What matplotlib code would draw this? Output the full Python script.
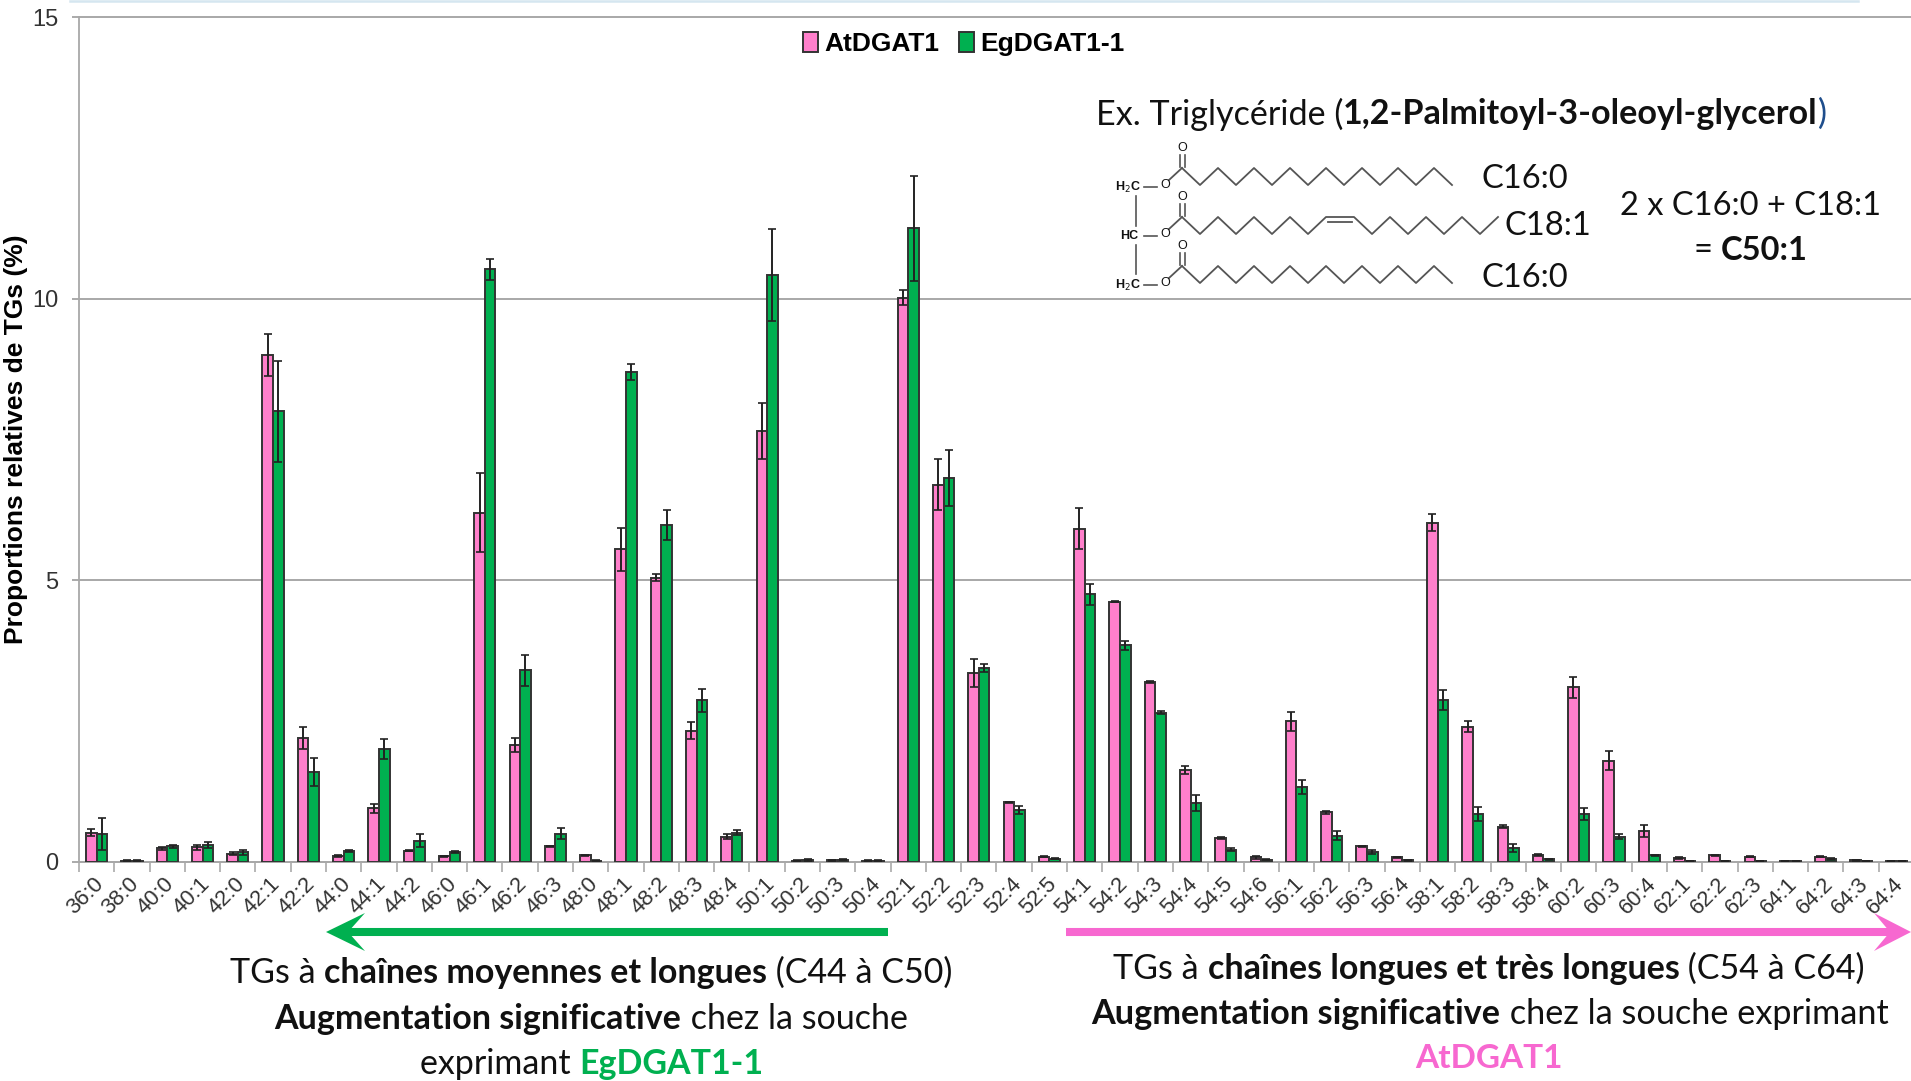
import numpy as np
import matplotlib
matplotlib.use('Agg')
import matplotlib.pyplot as plt

categories = ['36:0', '38:0', '40:0', '40:1', '42:0', '42:1', '42:2', '44:0', '44:1', '44:2',
              '46:0', '46:1', '46:2', '46:3', '48:0', '48:1', '48:2', '48:3', '48:4', '50:1',
              '50:2', '50:3', '50:4', '52:1', '52:2', '52:3', '52:4', '52:5', '54:1', '54:2',
              '54:3', '54:4', '54:5', '54:6', '56:1', '56:2', '56:3', '56:4', '58:1', '58:2',
              '58:3', '58:4', '60:2', '60:3', '60:4', '62:1', '62:2', '62:3', '64:1', '64:2',
              '64:3', '64:4']
at_values = [0.52, 0.02, 0.24, 0.26, 0.15, 9.0, 2.2, 0.1, 0.95, 0.2,
             0.1, 6.2, 2.08, 0.28, 0.12, 5.55, 5.05, 2.33, 0.45, 7.65,
             0.02, 0.03, 0.02, 10.02, 6.7, 3.35, 1.06, 0.09, 5.92, 4.62,
             3.2, 1.63, 0.43, 0.08, 2.5, 0.88, 0.28, 0.08, 6.02, 2.4,
             0.63, 0.13, 3.1, 1.8, 0.55, 0.07, 0.12, 0.09, 0.01, 0.09,
             0.03, 0.01]
eg_values = [0.5, 0.02, 0.28, 0.3, 0.17, 8.0, 1.6, 0.2, 2.0, 0.38,
             0.18, 10.52, 3.4, 0.5, 0.02, 8.7, 5.98, 2.87, 0.52, 10.42,
             0.04, 0.04, 0.02, 11.25, 6.82, 3.45, 0.93, 0.06, 4.75, 3.85,
             2.65, 1.05, 0.22, 0.04, 1.33, 0.47, 0.18, 0.03, 2.88, 0.85,
             0.25, 0.05, 0.85, 0.45, 0.12, 0.02, 0.02, 0.02, 0.01, 0.05,
             0.01, 0.01]
at_err = [0.06, 0.01, 0.02, 0.05, 0.02, 0.38, 0.2, 0.02, 0.08, 0.01,
          0.01, 0.7, 0.12, 0.01, 0.01, 0.38, 0.07, 0.15, 0.05, 0.5,
          0.01, 0.01, 0.01, 0.13, 0.45, 0.25, 0.01, 0.01, 0.37, 0.01,
          0.02, 0.07, 0.02, 0.02, 0.17, 0.03, 0.01, 0.01, 0.15, 0.1,
          0.03, 0.02, 0.18, 0.17, 0.1, 0.01, 0.01, 0.01, 0, 0.01,
          0.01, 0]
eg_err = [0.28, 0.01, 0.03, 0.06, 0.04, 0.9, 0.25, 0.02, 0.18, 0.12,
          0.02, 0.18, 0.27, 0.1, 0.01, 0.14, 0.27, 0.2, 0.04, 0.82,
          0.02, 0.01, 0.01, 0.93, 0.5, 0.07, 0.07, 0.01, 0.18, 0.08,
          0.03, 0.14, 0.03, 0.01, 0.13, 0.08, 0.04, 0.01, 0.18, 0.13,
          0.07, 0.01, 0.1, 0.05, 0.01, 0, 0, 0, 0, 0.02,
          0, 0]
y_ticks = [0, 5, 10, 15]

W, H = 1911, 1081
PINK = '#ff7fcb'
GREEN = '#00b050'
ARROW_PINK = '#f768d0'
TXT = 'Lato'

plt.rcParams['font.family'] = ['Liberation Sans', 'DejaVu Sans']
fig = plt.figure(figsize=(W / 100, H / 100), dpi=100)

# axes box in pixels, the last category runs slightly past the picture
left, right, top, bottom = 79, 1914, 17, 862
ax_w = right - left
ax_h = bottom - top
ax = fig.add_axes([left / W, 1 - bottom / H, ax_w / W, ax_h / H])
x = np.arange(len(categories))
bw = 0.3
err_kw = dict(ecolor='#222222', elinewidth=1.4, capsize=3, capthick=1.2)
ax.bar(x - bw / 2, at_values, bw, yerr=at_err, color=PINK, edgecolor='#333333', linewidth=1.4,
       error_kw=err_kw, label='AtDGAT1', zorder=3)
ax.bar(x + bw / 2, eg_values, bw, yerr=eg_err, color=GREEN, edgecolor='#333333', linewidth=1.4,
       error_kw=err_kw, label='EgDGAT1-1', zorder=3)
ax.set_xlim(-0.5, len(categories) - 0.5)
ax.set_ylim(0, 15)
ax.set_yticks(y_ticks)
ax.set_xticks(np.arange(len(categories) + 1) - 0.5)
ax.set_xticklabels([])
ax.tick_params(axis='x', length=7, color='#aaaaaa', width=1.2)
ax.tick_params(axis='y', length=5, color='#aaaaaa', width=1.4, labelsize=17, pad=10, labelcolor='#333333')
ax.grid(axis='y', color='#a8a8a8', linewidth=1.4, zorder=0, clip_on=False)
for s in ['top', 'right']:
    ax.spines[s].set_visible(False)
for s in ['left', 'bottom']:
    ax.spines[s].set_color('#a8a8a8')
    ax.spines[s].set_linewidth(1.3)
for xi, lab in zip(x, categories):
    ax.annotate(lab, (xi, 0), xytext=(-2.5, -8), textcoords='offset points', rotation=45,
                ha='right', va='top', rotation_mode='anchor', fontsize=15.8, color='#333333')
ax.set_ylabel('Proportions relatives de TGs (%)', fontsize=19, fontweight='bold')
ax.yaxis.set_label_coords((28 - left) / ax_w, 0.5)
ax.legend(loc='center', bbox_to_anchor=((964 - left) / ax_w, (bottom - 44) / ax_h), ncol=2, frameon=False,
          prop={'weight': 'bold', 'size': 19}, handlelength=0.55, handleheight=0.8,
          handletextpad=0.25, columnspacing=0.75, borderpad=0, borderaxespad=0)

# overlay in pixel coordinates for annotations
ov = fig.add_axes([0, 0, 1, 1], facecolor='none')
ov.set_xlim(0, W)
ov.set_ylim(H, 0)
ov.axis('off')

ov.plot([70, 1858], [1, 1], color='#d5e6f0', lw=1.8)


def rich(xc, y, parts, size=24.5):
    """draw a centred line of (text, weight, colour) runs"""
    r = fig.canvas.get_renderer()
    arts = []
    for t, w, c in parts:
        a = ov.text(0, y, t, fontsize=size, fontweight=w, color=c, family=[TXT, 'DejaVu Sans'],
                    va='center', ha='left')
        arts.append((a, a.get_window_extent(r).width))
    cur = xc - sum(wd for _, wd in arts) / 2
    for a, wd in arts:
        a.set_x(cur)
        cur += wd


B = 'bold'
N = 'normal'
K = '#111111'
rich(591, 973, [('TGs à ', N, K), ('chaînes moyennes et longues', B, K), (' (C44 à C50)', N, K)])
rich(591, 1019, [('Augmentation significative', B, K), (' chez la souche', N, K)])
rich(592, 1064, [('exprimant ', N, K), ('EgDGAT1-1', B, GREEN)])
rich(1489, 969, [('TGs à ', N, K), ('chaînes longues et très longues', B, K), (' (C54 à C64)', N, K)])
rich(1490, 1014, [('Augmentation significative', B, K), (' chez la souche exprimant', N, K)], size=24.7)
rich(1489, 1059, [('AtDGAT1', B, ARROW_PINK)], size=24)
rich(1461, 114, [('Ex. Triglycéride (', N, K), ('1,2-Palmitoyl-3-oleoyl-glycerol', B, K), (')', N, '#1f4e8c')], size=24.6)
rich(1525, 179, [('C16:0', N, K)], size=23.5)
rich(1548, 226, [('C18:1', N, K)], size=23.5)
rich(1525, 278, [('C16:0', N, K)], size=23.5)
rich(1751, 206, [('2 x C16:0 + C18:1', N, K)], size=23.5)
rich(1751, 250, [('= ', N, K), ('C50:1', B, K)], size=23.5)

# arrows
ov.plot([348, 888], [932, 932], color=GREEN, lw=5.8, solid_capstyle='butt')
ov.fill([326, 365, 348, 365], [932, 913, 932, 951], color=GREEN, lw=0)
ov.plot([1066, 1892], [932, 932], color=ARROW_PINK, lw=5.8, solid_capstyle='butt')
ov.fill([1911, 1874, 1890, 1874], [932, 913, 932, 951], color=ARROW_PINK, lw=0)

# triglyceride sketch
SK = '#555555'
C_X = 1182
DX = 18
for y0, label, lx in zip([185, 234, 283], ['H$_2$C', 'HC', 'H$_2$C'], [1115, 1120, 1115]):
    ov.text(lx, y0 + 2, label, fontsize=9, fontweight='bold', color=K, va='center')
    ov.plot([1144, 1157], [y0 + 2, y0 + 2], color=SK, lw=1.2)
    ov.text(1165, y0, 'O', fontsize=9, ha='center', va='center', color=K)
    ov.plot([1169, C_X], [y0 - 5, y0 - 17], color=SK, lw=1.3)
    ov.plot([C_X - 2.5, C_X - 2.5], [y0 - 18, y0 - 30], color=SK, lw=1.2)
    ov.plot([C_X + 2.5, C_X + 2.5], [y0 - 18, y0 - 30], color=SK, lw=1.2)
    ov.text(C_X, y0 - 37, 'O', fontsize=9, ha='center', va='center', color=K)
ov.plot([1136, 1136], [196, 226], color=SK, lw=1.2)
ov.plot([1136, 1136], [245, 274], color=SK, lw=1.2)
for y0 in (185, 283):
    xs = [C_X + i * DX for i in range(16)]
    ys = [y0 - 17 if i % 2 == 0 else y0 for i in range(16)]
    ov.plot(xs, ys, color=SK, lw=1.3)
xs = [C_X + i * DX for i in range(9)] + [1354 + i * DX for i in range(9)]
ys = [217 if i % 2 == 0 else 234 for i in range(9)] * 2
ov.plot(xs, ys, color=SK, lw=1.3)
ov.plot([1328, 1352], [222, 222], color=SK, lw=1.3)

fig.savefig('out.png', dpi=100)
